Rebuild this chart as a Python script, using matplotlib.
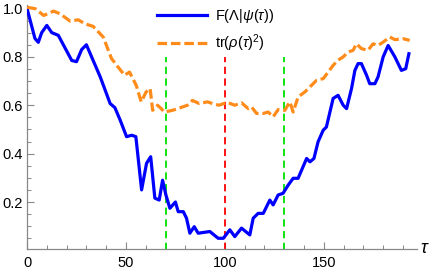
import matplotlib
matplotlib.use('Agg')
import matplotlib.pyplot as plt
import matplotlib.ticker as ticker

plt.rcParams['font.family'] = ['Liberation Sans', 'DejaVu Sans']
plt.rcParams['mathtext.fontset'] = 'custom'
plt.rcParams['mathtext.rm'] = 'Liberation Sans'
plt.rcParams['mathtext.it'] = 'Liberation Sans:italic'

#------------------------------------------------------------------------------
# DATA

# F(Lambda|psi(tau))
tau_F = [0, 4, 5.7, 7.4, 10, 12.5, 15.8, 19, 22.6, 25, 27.6, 30, 37, 42, 44.4, 47,
         50.3, 52.9, 55, 57.9, 60.4, 62.5, 64.6, 66.8, 68.5, 70.2, 72.2, 75, 76.4,
         79, 80.6, 82.3, 84.5, 86.5, 92.4, 96.6, 99.2, 102.5, 105, 108.4, 112.6,
         114.3, 116.8, 119.4, 122.7, 124.4, 126.9, 129.4, 132, 134.5, 137, 141.3,
         143, 145, 147.1, 149.7, 151.3, 154.7, 157.2, 159.8, 161.5, 164, 165.7,
         167.3, 169, 171.6, 173.2, 175.8, 177.4, 180, 182.5, 185.9, 189.2, 191.4, 193]
F = [1.0, 0.876, 0.86, 0.90, 0.93, 0.90, 0.889, 0.84, 0.785, 0.78, 0.83, 0.85, 0.717,
     0.607, 0.59, 0.54, 0.47, 0.476, 0.47, 0.25, 0.36, 0.387, 0.216, 0.208, 0.29,
     0.229, 0.174, 0.20, 0.16, 0.16, 0.133, 0.071, 0.098, 0.071, 0.078, 0.05, 0.05,
     0.085, 0.057, 0.092, 0.064, 0.133, 0.153, 0.153, 0.208, 0.188, 0.229, 0.236,
     0.27, 0.298, 0.298, 0.38, 0.366, 0.38, 0.449, 0.497, 0.51, 0.628, 0.641, 0.60,
     0.586, 0.669, 0.744, 0.772, 0.772, 0.724, 0.689, 0.689, 0.717, 0.80, 0.847,
     0.80, 0.744, 0.751, 0.813]

# tr(rho(tau)^2)
tau_P = [0, 4.2, 8.4, 10.9, 13.4, 16.7, 21.7, 25.9, 29.2, 33.4, 38.5, 42.7, 46,
         49.3, 51.8, 55.2, 57.7, 60.2, 62.2, 63.5, 66, 67.8, 69.4, 73.6, 78.6, 81.1,
         83.6, 87, 91.2, 93.7, 97, 101.2, 105, 108.4, 111.8, 113.5, 116, 119.4, 121.9,
         124.4, 126.9, 130.3, 132.8, 134.5, 137, 140.4, 142.9, 146.3, 149.7, 152.2,
         154.7, 157.2, 159.8, 162.3, 164.8, 166.5, 169, 172.3, 174.9, 177.4, 180,
         183.4, 185.9, 190.1, 193.4]
P = [1.005, 0.999, 0.971, 0.98, 0.989, 0.978, 0.948, 0.953, 0.937, 0.926, 0.882,
     0.793, 0.758, 0.724, 0.737, 0.682, 0.614, 0.655, 0.669, 0.579, 0.60, 0.586,
     0.572, 0.579, 0.593, 0.60, 0.62, 0.607, 0.614, 0.607, 0.60, 0.612, 0.60, 0.61,
     0.586, 0.593, 0.566, 0.566, 0.572, 0.552, 0.582, 0.579, 0.614, 0.572, 0.634,
     0.655, 0.675, 0.703, 0.71, 0.737, 0.765, 0.786, 0.80, 0.82, 0.827, 0.854,
     0.834, 0.827, 0.854, 0.847, 0.861, 0.882, 0.871, 0.875, 0.868]

# vertical markers
tau_green = [70, 130]
tau_red = [100]
v_top = 0.8

#------------------------------------------------------------------------------
# PLOT

fig = plt.figure(figsize=(4.36, 2.70), dpi=100)
ax = fig.add_axes([0.062, 0.078, 0.894, 0.905])

axcol = '#888888'
for t in tau_green:
    ax.plot([t, t], [0, v_top], color='#00e000', lw=1.3, dashes=(4, 2.5), zorder=2)
for t in tau_red:
    ax.plot([t, t], [0, v_top], color='#ff0000', lw=1.3, dashes=(4, 2.5), zorder=2)

ax.plot(tau_F, F, color='#0000ff', lw=2.3, solid_joinstyle='round',
        label=r'F($\Lambda|\psi(\tau)$)', zorder=3)
ax.plot(tau_P, P, color='#ff8c1a', lw=2.3, dashes=(3, 1.2),
        label=r'tr($\rho(\tau)^2$)', zorder=3)

ax.set_xlim(0, 197)
ax.set_ylim(0.006, 1.016)

for s in ['top', 'right']:
    ax.spines[s].set_visible(False)
for s in ['left', 'bottom']:
    ax.spines[s].set_color(axcol)
    ax.spines[s].set_linewidth(0.9)

ax.xaxis.set_major_locator(ticker.FixedLocator([0, 50, 100, 150]))
ax.xaxis.set_minor_locator(ticker.MultipleLocator(10))
ax.yaxis.set_major_locator(ticker.FixedLocator([0.2, 0.4, 0.6, 0.8, 1.0]))
ax.yaxis.set_minor_locator(ticker.MultipleLocator(0.05))
ax.yaxis.set_major_formatter(ticker.FormatStrFormatter('%.1f'))

ax.tick_params(which='both', direction='in', color=axcol, labelsize=10.5)
ax.tick_params(which='major', length=5, width=0.8)
ax.tick_params(which='minor', length=3, width=0.7)
ax.tick_params(axis='x', pad=5)
ax.tick_params(axis='y', pad=3)

ax.text(1.008, 0.0, r'$\tau$', transform=ax.transAxes, fontsize=13,
        ha='left', va='center')

ax.legend(loc='upper left', bbox_to_anchor=(0.30, 1.045), frameon=False,
          fontsize=10.5, handlelength=3.4, handletextpad=0.6, labelspacing=0.55)

fig.savefig('out.png', dpi=100)
